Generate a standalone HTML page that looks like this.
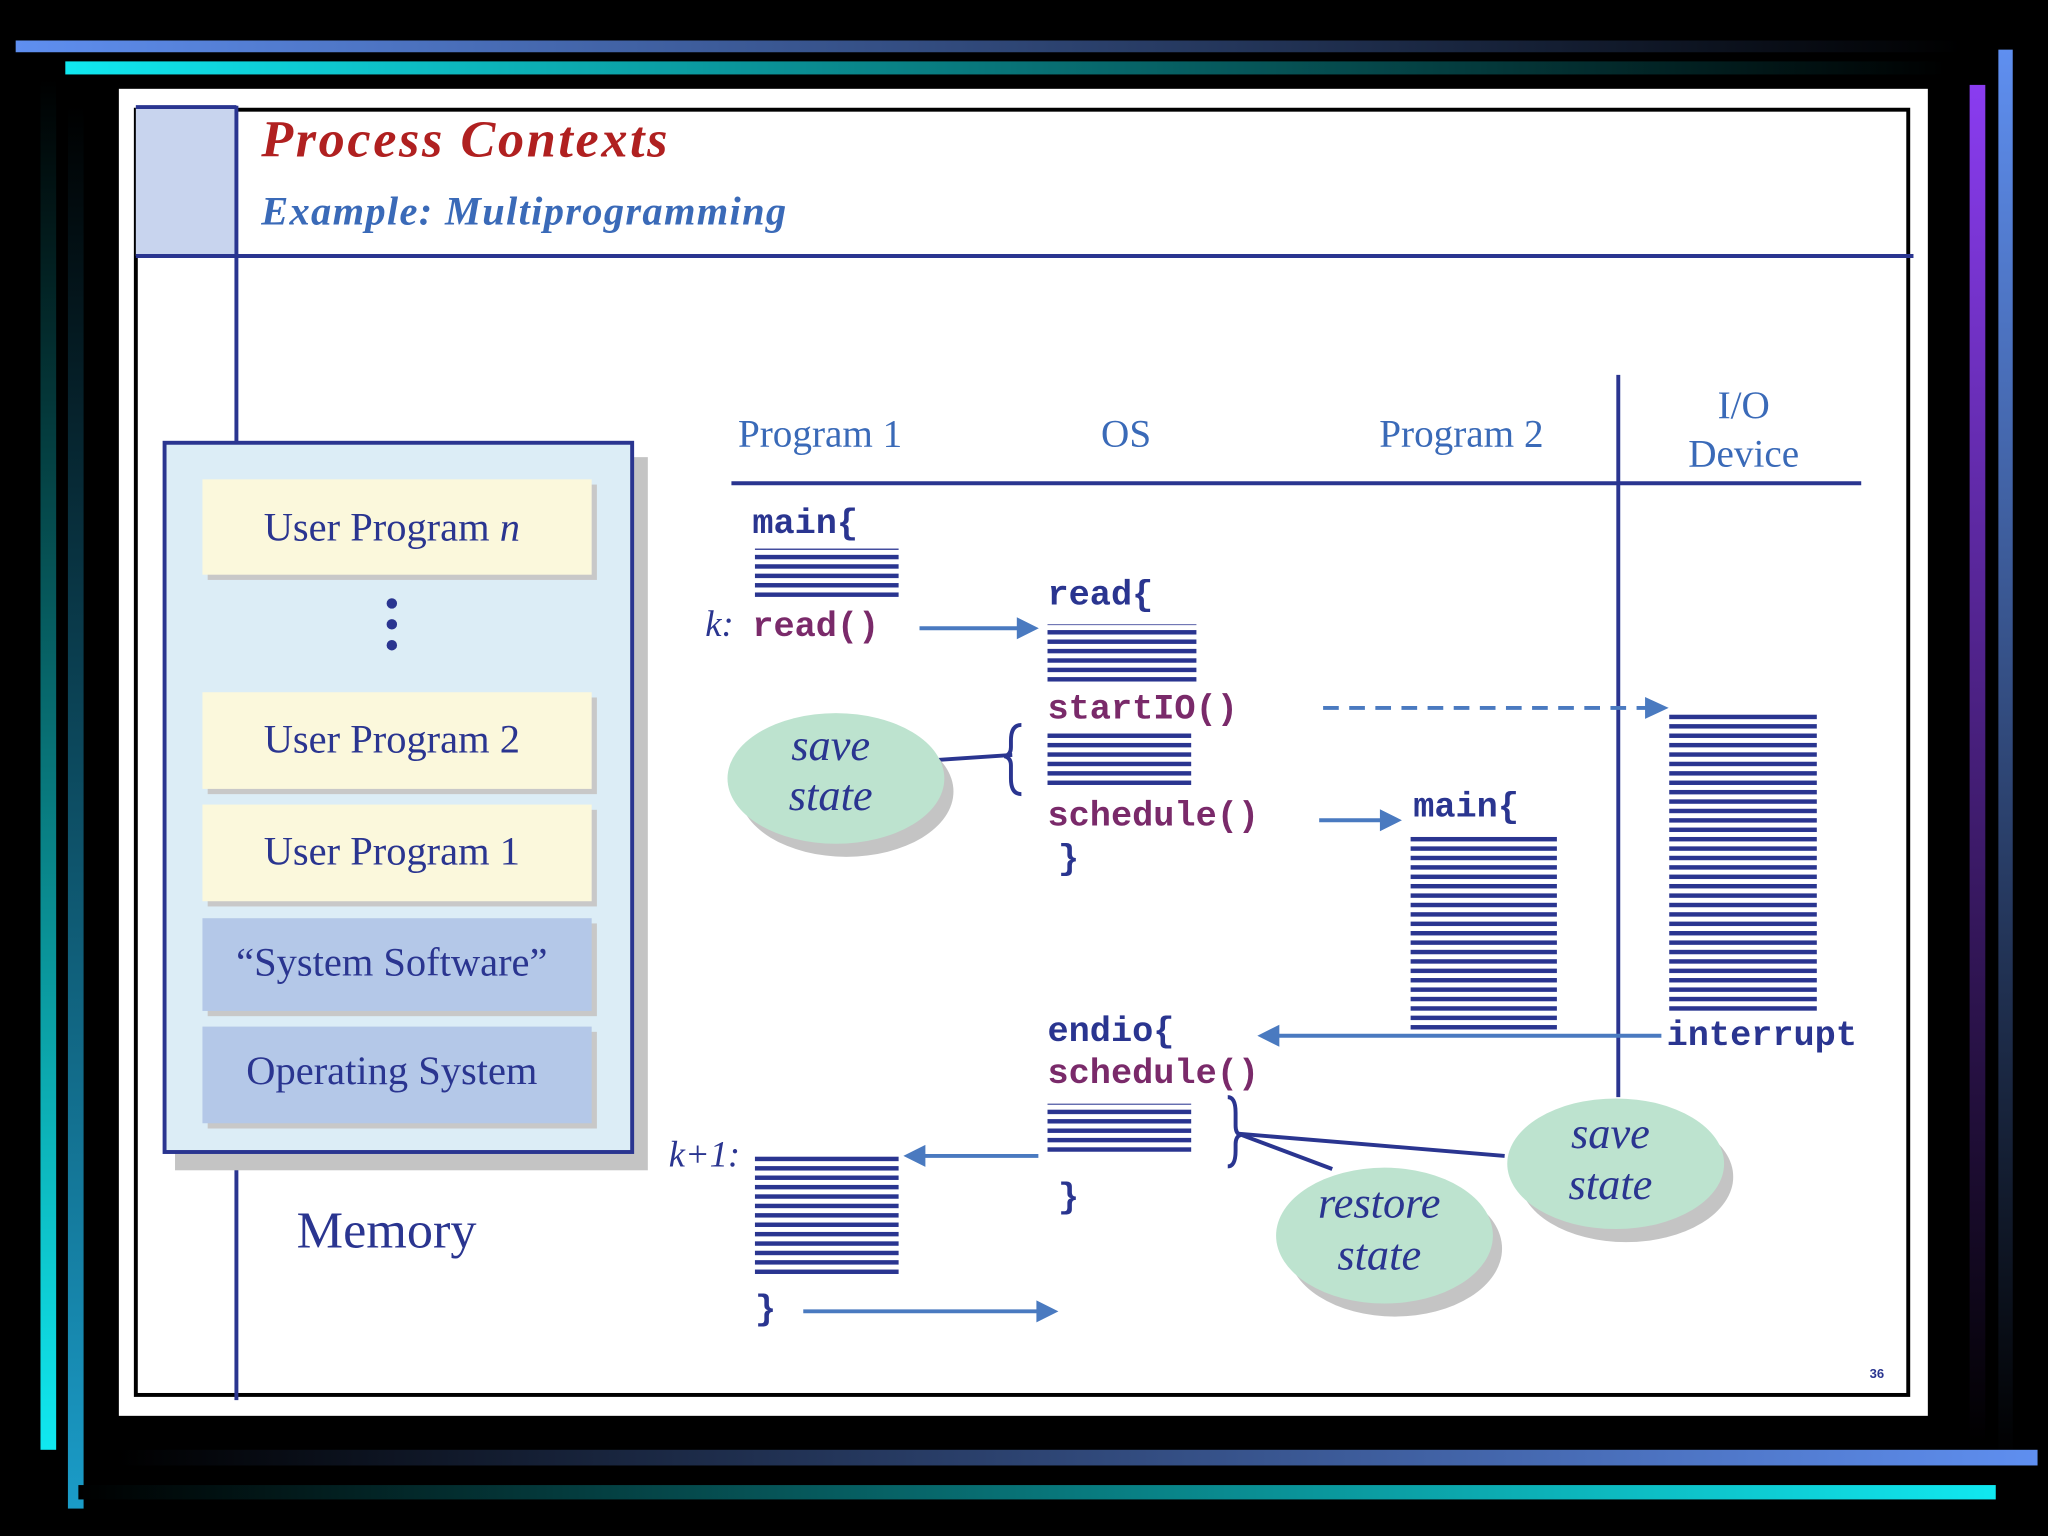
<!DOCTYPE html>
<html><head><meta charset="utf-8"><style>html,body{margin:0;padding:0;background:#000;overflow:hidden}svg{display:block}</style></head><body>
<svg width="2048" height="1536" viewBox="0 0 1568 1176" xmlns="http://www.w3.org/2000/svg">
<defs>
<linearGradient id="gb" x1="0" x2="1"><stop offset="0" stop-color="#5f8ff0"/><stop offset="1" stop-color="#000"/></linearGradient>
<linearGradient id="gc" x1="0" x2="1"><stop offset="0" stop-color="#10e8f0"/><stop offset="1" stop-color="#000"/></linearGradient>
<linearGradient id="gbr" x1="1" x2="0"><stop offset="0" stop-color="#5f8ff0"/><stop offset="1" stop-color="#000"/></linearGradient>
<linearGradient id="gcr" x1="1" x2="0"><stop offset="0" stop-color="#10e8f0"/><stop offset="1" stop-color="#000"/></linearGradient>
<linearGradient id="vb" x1="0" y1="0" x2="0" y2="1"><stop offset="0" stop-color="#5f8ff0"/><stop offset="1" stop-color="#000"/></linearGradient>
<linearGradient id="vp" x1="0" y1="0" x2="0" y2="1"><stop offset="0" stop-color="#8a3cf0"/><stop offset="1" stop-color="#000"/></linearGradient>
<linearGradient id="vc" x1="0" y1="1" x2="0" y2="0"><stop offset="0" stop-color="#10e8f0"/><stop offset="1" stop-color="#000"/></linearGradient>
<linearGradient id="vt" x1="0" y1="1" x2="0" y2="0"><stop offset="0" stop-color="#1a9cc8"/><stop offset="1" stop-color="#000"/></linearGradient>
<pattern id="st" width="10" height="7.2" patternUnits="userSpaceOnUse"><rect width="10" height="3.4" fill="#2a3590"/></pattern>
</defs>
<rect x="12" y="31" width="1490" height="9" fill="url(#gb)"/>
<rect x="50" y="47" width="1440" height="10" fill="url(#gc)"/>
<rect x="1530" y="38" width="11" height="1080" fill="url(#vb)"/>
<rect x="1508" y="65" width="12" height="1040" fill="url(#vp)"/>
<rect x="31" y="60" width="12" height="1050" fill="url(#vc)"/>
<rect x="52" y="80" width="12" height="1075" fill="url(#vt)"/>
<rect x="90" y="1110" width="1470" height="12" fill="url(#gbr)"/>
<rect x="60" y="1137" width="1468" height="11" fill="url(#gcr)"/>
<rect x="91" y="68" width="1385" height="1016" fill="#fff"/>
<rect x="104" y="84" width="1357" height="984" fill="none" stroke="#000" stroke-width="3"/>
<rect x="104" y="81" width="77" height="115" fill="#c8d4ee"/>
<line x1="181" y1="81" x2="181" y2="1072" stroke="#2a3590" stroke-width="3"/>
<line x1="104" y1="196" x2="1465" y2="196" stroke="#2a3590" stroke-width="3"/>
<line x1="104" y1="82" x2="181" y2="82" stroke="#2a3590" stroke-width="3"/>
<g font-family="Liberation Serif,serif" font-style="italic" font-weight="bold">
<text x="200" y="120" font-size="40" fill="#b02020" letter-spacing="2">Process  Contexts</text>
<text x="200" y="172" font-size="31" fill="#3a6ab8" letter-spacing="1">Example:  Multiprogramming</text>
</g>
<rect x="134" y="350" width="362" height="546" fill="#c4c4c4"/>
<rect x="126" y="339" width="358" height="543" fill="#dcedf6" stroke="#2a3590" stroke-width="3"/>
<g font-family="Liberation Serif,serif" font-size="31" fill="#2a3590" text-anchor="middle">
<rect x="159" y="371" width="298" height="73" fill="#c8c8c8"/><rect x="155" y="367" width="298" height="73" fill="#fbf8dc"/>
<text x="300" y="414">User Program <tspan font-style="italic">n</tspan></text>
<rect x="159" y="534" width="298" height="74" fill="#c8c8c8"/><rect x="155" y="530" width="298" height="74" fill="#fbf8dc"/>
<text x="300" y="576">User Program 2</text>
<rect x="159" y="620" width="298" height="74" fill="#c8c8c8"/><rect x="155" y="616" width="298" height="74" fill="#fbf8dc"/>
<text x="300" y="662">User Program 1</text>
<rect x="159" y="707" width="298" height="71" fill="#c8c8c8"/><rect x="155" y="703" width="298" height="71" fill="#b4c8e8"/>
<text x="300" y="747">“System Software”</text>
<rect x="159" y="790" width="298" height="74" fill="#c8c8c8"/><rect x="155" y="786" width="298" height="74" fill="#b4c8e8"/>
<text x="300" y="830">Operating System</text>
<text x="296" y="955" font-size="40">Memory</text>
</g>
<circle cx="300" cy="462" r="4" fill="#2a3590"/><circle cx="300" cy="478" r="4" fill="#2a3590"/><circle cx="300" cy="494" r="4" fill="#2a3590"/>
<g font-family="Liberation Serif,serif" font-size="30" fill="#3a6ab8">
<text x="565" y="342">Program 1</text><text x="843" y="342">OS</text><text x="1056" y="342">Program 2</text>
<text x="1335" y="320" text-anchor="middle">I/O</text><text x="1335" y="357" text-anchor="middle">Device</text>
</g>
<line x1="560" y1="370" x2="1425" y2="370" stroke="#2a3590" stroke-width="3"/>
<line x1="1239" y1="287" x2="1239" y2="840" stroke="#2a3590" stroke-width="3"/>
<rect x="578" y="420" width="110" height="38" fill="url(#st)"/>
<rect x="802" y="478" width="114" height="46" fill="url(#st)"/>
<rect x="802" y="560" width="110" height="42" fill="url(#st)"/>
<rect x="1278" y="545" width="113" height="232" fill="url(#st)"/>
<rect x="1080" y="638" width="112" height="152" fill="url(#st)"/>
<rect x="802" y="845" width="110" height="40" fill="url(#st)"/>
<rect x="578" y="885" width="110" height="92" fill="url(#st)"/>
<g font-family="Liberation Mono,monospace" font-weight="bold" font-size="27">
<text x="576" y="408" fill="#2a3590">main{</text>
<text x="576" y="487" fill="#7a2a6a">read()</text>
<text x="802" y="463" fill="#2a3590">read{</text>
<text x="802" y="550" fill="#7a2a6a">startIO()</text>
<text x="802" y="632" fill="#7a2a6a">schedule()</text>
<text x="810" y="665" fill="#2a3590">}</text>
<text x="1082" y="625" fill="#2a3590">main{</text>
<text x="802" y="797" fill="#2a3590">endio{</text>
<text x="802" y="829" fill="#7a2a6a">schedule()</text>
<text x="810" y="924" fill="#2a3590">}</text>
<text x="1276" y="800" fill="#2a3590">interrupt</text>
<text x="578" y="1010" fill="#2a3590">}</text>
</g>
<g font-family="Liberation Serif,serif" font-style="italic" font-size="28" fill="#2a3590">
<text x="540" y="487">k:</text><text x="512" y="893">k+1:</text>
</g>
<g stroke="#4a7ac0" stroke-width="3" fill="#4a7ac0">
<line x1="704" y1="481" x2="782" y2="481"/><polygon points="792,481 780,475 780,487"/>
<line x1="1013" y1="542" x2="1262" y2="542" stroke-dasharray="12,8"/><polygon points="1274,542 1261,536 1261,548"/>
<line x1="1010" y1="628" x2="1060" y2="628"/><polygon points="1070,628 1058,622 1058,634"/>
<line x1="1272" y1="793" x2="976" y2="793"/><polygon points="966,793 978,787 978,799"/>
<line x1="795" y1="885" x2="705" y2="885"/><polygon points="695,885 707,879 707,891"/>
<line x1="615" y1="1004" x2="797" y2="1004"/><polygon points="807,1004 795,998 795,1010"/>
</g>
<g stroke="#2a3590" stroke-width="3" fill="none">
<line x1="715" y1="582" x2="775" y2="578"/>
<path d="M782,555 q-8,0 -8,12 v5 q0,6 -5,7 q5,1 5,7 v10 q0,12 8,12"/>
<path d="M940,840 q6,0 6,12 v10 q0,6 4,7 q-4,1 -4,7 v5 q0,12 -6,12"/>
<line x1="948" y1="868" x2="1152" y2="885"/>
<line x1="948" y1="868" x2="1020" y2="895"/>
</g>
<g font-family="Liberation Serif,serif" font-style="italic" font-size="34" fill="#2a3590" text-anchor="middle">
<ellipse cx="648" cy="606" rx="82" ry="50" fill="#c4c4c4"/><ellipse cx="640" cy="596" rx="83" ry="50" fill="#bde3cf"/>
<text x="636" y="582">save</text><text x="636" y="620">state</text>
<ellipse cx="1245" cy="901" rx="82" ry="50" fill="#c4c4c4"/><ellipse cx="1237" cy="891" rx="83" ry="50" fill="#bde3cf"/>
<text x="1233" y="879">save</text><text x="1233" y="918">state</text>
<ellipse cx="1068" cy="956" rx="82" ry="52" fill="#c4c4c4"/><ellipse cx="1060" cy="946" rx="83" ry="52" fill="#bde3cf"/>
<text x="1056" y="932">restore</text><text x="1056" y="972">state</text>
</g>
<text x="1437" y="1055" font-family="Liberation Sans,sans-serif" font-size="10" font-weight="bold" fill="#2a3590" text-anchor="middle">36</text>
</svg>
</body></html>
